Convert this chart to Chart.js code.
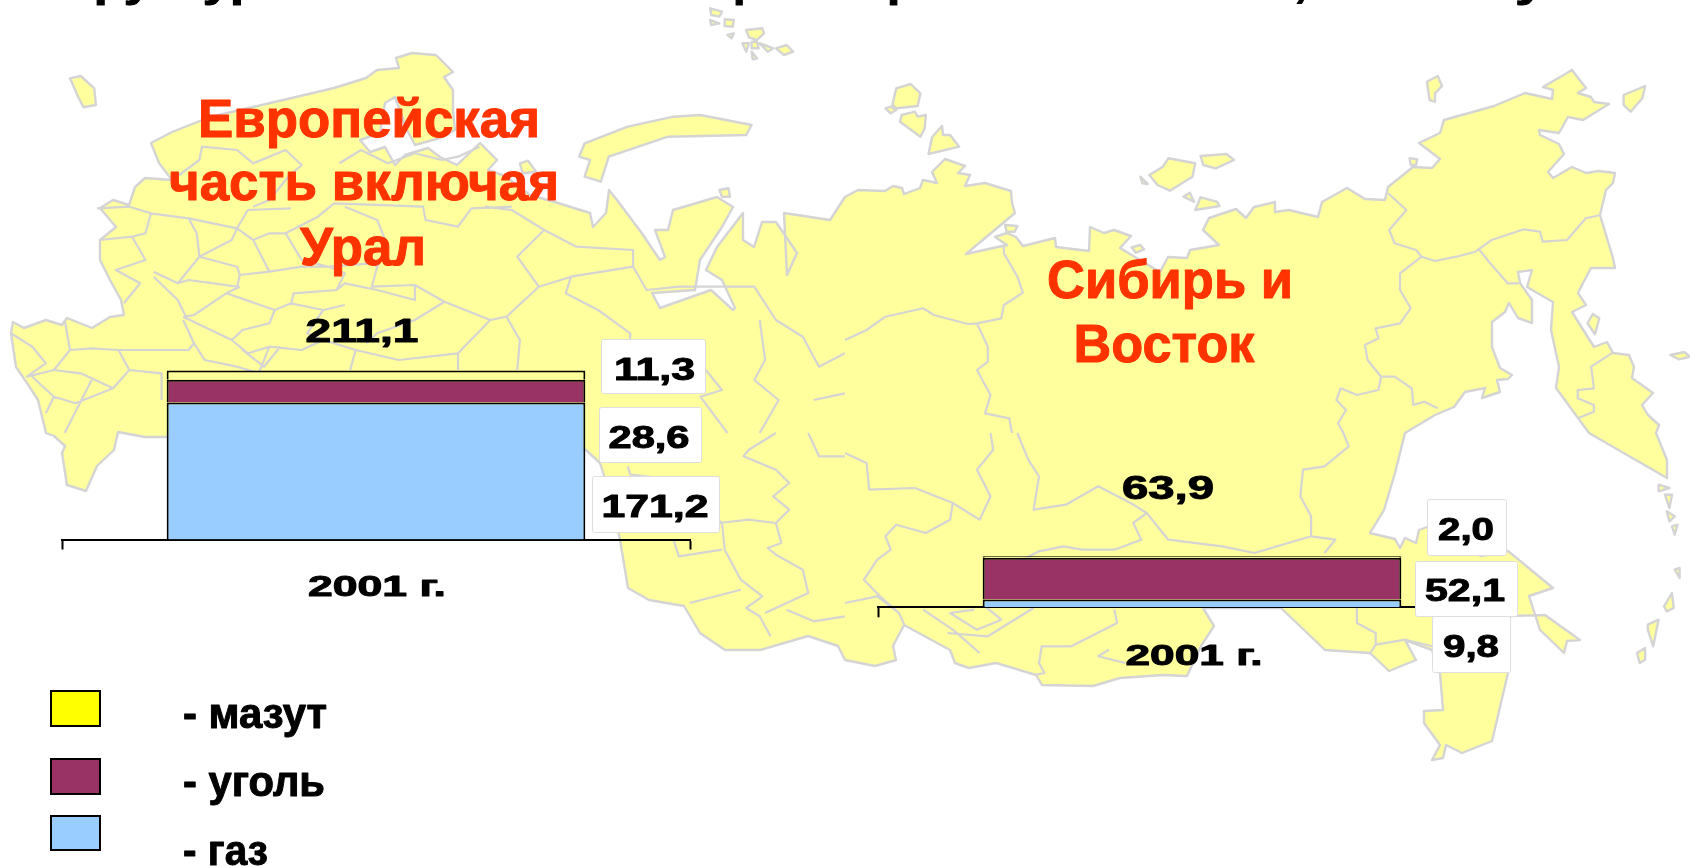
<!DOCTYPE html>
<html lang="ru"><head><meta charset="utf-8">
<style>
html,body{margin:0;padding:0;background:#fff;width:1690px;height:866px;overflow:hidden}
svg,canvas{position:absolute;left:0;top:0}
</style>
<script src="https://cdn.jsdelivr.net/npm/chart.js@4"></script>
</head><body>
<svg id="map" width="1690" height="866" viewBox="0 0 1690 866"></svg>
<canvas id="c1" width="1690" height="866"></canvas>
<canvas id="c2" width="1690" height="866"></canvas>
<script>
// ---------- data ----------
const categories = ['2001 г.'];
const seriesNames = ['мазут', 'уголь', 'газ'];
const europeGas = [171.2];
const europeCoal = [28.6];
const europeMazut = [11.3];
const europeTotal = 211.1;
const siberiaGas = [9.8];
const siberiaCoal = [52.1];
const siberiaMazut = [2.0];
const siberiaTotal = 63.9;

// ---------- decorative base map (full-size page coordinates) ----------
const mainland = [13,322,24,328,46,320,62,325,67,318,92,328,110,317,124,315,121,300,110,280,100,260,100,240,116,227,100,208,113,200,129,205,135,187,145,178,172,180,159,163,151,143,172,132,210,117,253,107,296,97,334,88,366,78,377,70,399,68,396,58,412,53,436,55,453,72,444,77,453,90,453,110,455,130,440,138,415,145,407,130,395,97,385,103,380,133,360,140,370,152,385,147,395,165,405,155,428,148,440,157,457,165,480,143,497,160,488,170,505,176,530,195,558,203,590,213,593,227,606,213,609,190,617,200,641,232,660,260,665,257,655,230,668,230,673,210,717,197,733,207,722,227,700,260,695,290,652,293,660,308,711,290,733,310,735,308,722,280,706,270,717,247,743,213,743,240,754,247,762,222,776,222,797,253,787,275,784,213,830,220,845,197,858,190,885,191,893,186,902,188,904,194,920,188,923,180,937,183,932,172,945,159,965,166,958,173,970,175,965,186,985,183,1011,191,1012,203,1015,213,966,254,1007,245,995,237,1007,233,1016,237,1023,246,1055,238,1056,247,1089,251,1090,227,1104,233,1114,230,1131,236,1120,248,1160,272,1168,257,1187,258,1190,250,1219,245,1203,230,1209,218,1236,209,1246,218,1254,207,1275,202,1275,212,1289,210,1318,217,1322,202,1347,188,1365,199,1385,200,1388,187,1413,167,1432,168,1440,159,1419,143,1440,133,1444,120,1494,106,1525,93,1552,99,1553,90,1543,87,1572,70,1586,88,1578,93,1591,97,1594,102,1609,104,1583,120,1568,117,1559,133,1539,130,1540,135,1559,144,1564,154,1548,172,1553,178,1572,167,1586,173,1599,171,1615,173,1613,183,1606,190,1600,215,1613,258,1615,268,1591,268,1582,285,1578,293,1586,305,1572,312,1594,347,1607,342,1613,353,1629,355,1634,367,1632,378,1653,393,1642,405,1648,415,1659,425,1656,433,1667,460,1667,478,1589,433,1578,418,1556,388,1559,367,1551,330,1553,302,1527,287,1532,270,1518,272,1520,283,1532,300,1532,323,1518,318,1509,303,1505,312,1492,322,1492,347,1500,368,1512,375,1508,379,1497,380,1500,392,1482,398,1485,388,1465,392,1454,407,1435,415,1405,433,1395,473,1384,510,1370,533,1395,539,1400,548,1405,538,1416,543,1419,530,1427,527,1481,556,1508,551,1553,588,1529,596,1540,630,1564,653,1567,641,1580,640,1545,615,1510,616,1508,673,1492,741,1462,753,1446,745,1443,758,1432,760,1440,745,1424,723,1424,711,1443,710,1440,673,1432,650,1405,640,1416,660,1389,671,1370,653,1325,650,1281,608,1203,608,1214,626,1201,646,1187,676,1163,675,1120,678,1093,686,1042,685,1036,675,996,663,969,668,955,663,950,650,904,625,893,646,896,660,875,666,845,660,838,646,808,636,760,650,725,650,700,633,684,606,649,600,628,588,620,540,612,500,600,463,586,450,167,437,145,437,118,432,114,450,97,466,86,491,67,485,62,453,65,446,54,436,46,433,38,400,27,383,16,367,11,333];

const pZ1 = [[130,235,150,228,175,265,178,315,155,322,145,290],[1085,430,1165,380,1250,350,1300,345,1395,375,1385,405,1240,410,1130,470,1115,545,1085,530,1095,480,1075,470],[965,490,980,482,995,515,970,520],[1335,570,1352,565,1355,590,1340,590],[1318,25,1340,35,1335,50,1320,45],[1318,60,1335,70,1320,75],[1345,58,1362,60,1360,80,1345,78],[1350,105,1362,100,1358,115],[1385,90,1415,85,1418,100,1405,120,1390,112],[1378,130,1390,130,1385,155],[1395,125,1405,125,1408,145,1395,145],[1410,130,1435,145,1425,155],[1440,145,1460,135,1472,155,1455,165],[1395,155,1405,175,1397,178]];
const pZ2 = [[95,265,122,252,140,280,135,318,95,325,88,315],[75,325,85,320,95,330,85,340],[105,345,130,335,135,350,150,345,148,385,140,410,102,365],[180,378,182,405,195,405,212,440,155,462,162,410],[600,475,650,490,645,530,603,572,580,555,565,525,590,500],[660,468,708,462,722,480,688,505,665,495],[548,530,562,552,552,550],[640,578,648,605,628,590],[660,592,690,605,695,618,650,630],[297,675,320,678,315,695,300,695],[532,742,548,735,555,748,540,758],[1048,475,1062,478,1060,495,1050,495],[1080,245,1100,228,1108,258,1095,280,1095,305,1085,300],[1445,285,1485,258,1480,295,1458,335,1445,315],[1378,970,1388,942,1400,955,1392,1003],[1532,1065,1558,1056,1568,1070,1548,1078]];
const pZ4 = [[1510,155,1530,165,1510,175],[1522,185,1535,185,1530,225],[1525,235,1540,250,1530,265],[1535,280,1545,275,1540,305],[1540,410,1549,405,1549,435],[1520,520,1535,480,1538,525,1525,535],[1490,575,1510,560,1500,640,1490,590],[1470,660,1485,645,1485,680,1475,690]];

const lZ1 = [[180,625,240,620,280,640,350,655,440,685,460,630,540,625],[280,640,270,700,245,710,185,720],[245,710,270,780,215,810,260,850,230,910],[350,655,365,700,370,770,350,810,330,850,285,815],[370,770,440,800,445,825,500,815,470,720,440,685],[445,825,440,860,350,840,330,850],[445,860,420,880,360,945,345,950,330,900,285,830],[360,945,420,880,510,930,540,910,600,930,640,915],[625,870,545,880,540,915],[700,800,690,860,770,855,825,905,910,960,940,950,1000,860,1060,830,1175,800],[1060,830,1050,880,1110,930,1170,1000,1165,1100],[940,950,965,1020,960,1110],[910,960,850,1060,740,1080,660,1050,600,1020,560,1050,500,1040,460,1060,430,1020,340,950],[700,870,770,900,770,855],[900,620,950,630,1010,690,1070,740,1175,750,1175,800],[500,700,530,700,590,650,620,610,785,620,790,660,850,680,875,625,950,620],[120,960,130,1050,100,1110],[20,1000,60,1040,85,1090,50,1130,100,1110],[220,1050,240,1110,210,1165,150,1120,100,1110],[340,960,360,1030,350,1050,220,1050],[450,1050,490,1100,520,1040],[130,1050,170,1045,220,1050],[320,540,370,480,375,440,440,450,470,490,530,450,560,495,535,530,500,600,470,620],[630,490,670,450,720,490,770,460,820,480,850,470,890,440],[1175,800,1200,870,1260,860,1400,860,1440,960,1490,1010,1520,1100,1568,1060],[1410,960,1420,1080,1400,1140,1445,1200,1410,1299],[1510,1200,1568,1180],[440,685,430,720,370,770],[500,700,470,720],[530,700,560,780,610,800,690,790,700,800],[500,815,560,800,610,800],[625,870,640,820,610,800],[510,930,500,970,450,990,430,1020],[600,930,570,1000,600,1020],[680,1030,700,1000,770,960,825,905],[360,1030,380,1080,440,1100,480,1120,500,1040],[660,1050,650,1110],[850,1060,850,1110],[700,870,640,850,625,870],[60,1130,100,1190,140,1210,210,1165],[100,1190,85,1240],[240,1110,300,1120,300,1200],[120,1299,170,1140],[640,620,700,660,720,740,700,800],[1000,860,960,770,1010,690],[1310,1110,1340,1170,1300,1190,1350,1299]];
const lZ3 = [[1340,270,1345,350,1375,440,1415,490,1385,525,1410,550,1430,610],[1335,270,1390,260,1440,270,1450,330,1425,345,1440,365,1490,410,1500,480,1420,540],[1440,0,1390,50,1380,70,1440,110,1465,150,1435,190,1465,230,1440,270],[1165,100,1170,125,1250,140,1290,200,1340,270],[1250,320,1260,370,1340,350],[1500,0,1520,70,1568,70],[1280,510,1375,470],[1460,530,1510,565,1568,550]];
const lZ2 = [[295,740,295,760,320,830,330,878,295,915,290,955,245,970,265,1040,265,1085,245,1110,270,1185,260,1240,305,1255,310,1299],[0,1020,40,990,75,950,145,925,165,945,228,972,245,970],[1008,580,1042,630,1010,690,1020,730,1060,750,1070,770,1030,820,1030,870,1050,925,1030,970,985,985,990,1015,965,1035,970,1080,995,1130,990,1170,950,1185,920,1165,912,1200,930,1230,915,1270,925,1299],[1070,770,1095,783,1135,770,1170,755,1200,720,1260,688,1290,695,1295,725,1340,720,1375,655,1402,645],[1175,745,1195,785,1230,850,1250,850],[995,1130,1020,1130,1052,1165,1055,1215,1075,1205,1100,1225],[1425,1058,1385,1100,1390,1165,1360,1170,1360,1195,1390,1215,1390,1235,1360,1255]];
const lZ4 = [[0,60,40,90,45,170,130,165,200,210,250,260,270,190,245,110,275,50,270,0],[200,210,195,260,150,300,95,275,75,310,85,350,60,380,35,440,65,490,100,540,110,575],[320,0,340,80,360,130,350,230,410,215,470,160,530,210,560,240,535,270,550,320,500,350,440,350,405,340,360,355,330,380,270,400],[925,0,935,40,890,100,850,110,845,190,865,250,865,310,910,320,890,360],[560,240,600,320,700,340,760,360,865,310],[0,510,60,490,100,540],[145,530,200,590,250,660],[190,600,265,610,350,525],[240,530,195,540,245,590,290,560,260,520],[500,530,505,570,420,640,365,640,360,690,370,720,355,725],[490,650,470,670,520,690],[950,525,950,570,985,600,985,635,975,660],[985,635,1040,620,1090,640]];

const conv = (a, ox, oy) => a.map((v, i) => i % 2 ? v / 3 + oy : v / 1.856 + ox);
const pathOf = (a, closed) => {
  let d = '';
  for (let i = 0; i < a.length; i += 2) d += (i ? 'L' : 'M') + a[i].toFixed(1) + ' ' + a[i + 1].toFixed(1);
  return d + (closed ? 'Z' : '');
};
let fillD = pathOf(mainland, true);
pZ1.forEach(p => fillD += pathOf(conv(p, 0, 0), true));
pZ2.forEach(p => fillD += pathOf(conv(p, 845, 0), true));
pZ4.forEach(p => fillD += pathOf(conv(p, 845, 433), true));
let lineD = '';
lZ1.forEach(p => lineD += pathOf(conv(p, 0, 0)));
lZ2.forEach(p => lineD += pathOf(conv(p, 845, 0)));
lZ3.forEach(p => lineD += pathOf(conv(p, 0, 433)));
lZ4.forEach(p => lineD += pathOf(conv(p, 845, 433)));
document.getElementById('map').innerHTML =
  `<path d="${fillD}" fill="#FFFF9E" stroke="#D4D4D4" stroke-width="2.4" stroke-linejoin="round"/>` +
  `<path d="${lineD}" fill="none" stroke="#D4D4D4" stroke-width="2.2" stroke-linejoin="round"/>`;

// ---------- text helpers ----------
const FONT = '"Liberation Sans", Arial, sans-serif';
function fitText(ctx, text, cx, base, size, width, color, left) {
  ctx.save();
  ctx.font = `bold ${size}px ${FONT}`;
  ctx.fillStyle = color || '#000';
  ctx.strokeStyle = color || '#000';
  ctx.lineWidth = 1;
  ctx.lineJoin = 'round';
  ctx.textBaseline = 'alphabetic';
  ctx.textAlign = 'center';
  const k = width / ctx.measureText(text).width;
  ctx.translate(left ? cx + width / 2 : cx, base);
  ctx.scale(k, 1);
  ctx.fillText(text, 0, 0);
  ctx.strokeText(text, 0, 0);
  ctx.restore();
}
const fmt = v => v.toFixed(1).replace('.', ',');
function valueBox(ctx, b, v) {
  ctx.save();
  ctx.fillStyle = '#fff';
  ctx.strokeStyle = '#DEDEDE';
  ctx.lineWidth = 1;
  ctx.beginPath();
  ctx.roundRect(b.x + .5, b.y + .5, b.w, b.h, 2);
  ctx.fill(); ctx.stroke();
  ctx.restore();
  fitText(ctx, fmt(v), b.cx, b.base, 31, b.tw);
}

// ---------- panel layout (positions only) ----------
const pxPerUnit = 0.8;
const panelTop = 20;
const baseline = { eu: 539.5, si: 607.3 };
const segmentBorder = { top: 2, bottom: 0, left: 2, right: 2 };

function makeChart(id, gas, coal, mazut, axisL, axisR, base, afterDraw) {
  return new Chart(document.getElementById(id), {
    type: 'bar',
    data: {
      labels: categories,
      datasets: [
        { label: seriesNames[2], data: gas, backgroundColor: '#99CCFF' },
        { label: seriesNames[1], data: coal, backgroundColor: '#993366' },
        { label: seriesNames[0], data: mazut, backgroundColor: '#FFFF99' }
      ].map(d => Object.assign(d, {
        borderColor: '#000', borderWidth: segmentBorder, borderSkipped: false,
        categoryPercentage: 2 / 3, barPercentage: 1
      }))
    },
    options: {
      responsive: false, animation: false,
      layout: { padding: { left: axisL, right: 1690 - axisR, top: panelTop, bottom: 866 - base - 10 } },
      plugins: { legend: { display: false }, tooltip: { enabled: false } },
      scales: {
        x: {
          stacked: true, offset: true,
          grid: { drawOnChartArea: false, drawTicks: true, tickLength: 10, tickColor: '#000', tickWidth: 2, color: '#000', offset: true },
          border: { display: true, color: '#000', width: 2 },
          ticks: { display: false }
        },
        y: { stacked: true, display: false, min: 0, max: (base - panelTop) / pxPerUnit }
      }
    },
    plugins: [{ id: 'txt', afterDraw: c => afterDraw(c, c.ctx) }]
  });
}

makeChart('c1', europeGas, europeCoal, europeMazut, 62, 690, baseline.eu, (c, ctx) => {
  // cut-off heading at the top edge
  [['Структура топливного', 33, 560], ['рынка', 733, 140], ['регионов', 887, 220], ['России,', 1125, 182], ['млн т у.т.', 1352, 240]]
    .forEach(t => fitText(ctx, t[0], t[1], -3, 40, t[2], '#000', true));
  // region name
  const red = '#FF3300';
  fitText(ctx, 'Европейская', 369, 137, 53, 342, red);
  fitText(ctx, 'часть включая', 364, 200, 53, 390, red);
  fitText(ctx, 'Урал', 363, 265, 53, 126, red);
  // totals and axis caption
  fitText(ctx, fmt(europeTotal), 362, 342, 33, 113);
  fitText(ctx, c.data.labels[0], 377, 596, 30, 138);
  // value boxes
  valueBox(ctx, { x: 601, y: 339, w: 104, h: 54, cx: 654.5, base: 380, tw: 81 }, europeMazut[0]);
  valueBox(ctx, { x: 599, y: 407, w: 102, h: 55, cx: 649, base: 448, tw: 81 }, europeCoal[0]);
  valueBox(ctx, { x: 592, y: 476, w: 127, h: 56, cx: 655, base: 517, tw: 107 }, europeGas[0]);
  // legend
  const keys = [
    { name: seriesNames[0], fill: '#FFFF00', y: 691, h: 35, base: 728, w: 144 },
    { name: seriesNames[1], fill: '#993366', y: 759, h: 35, base: 796, w: 142 },
    { name: seriesNames[2], fill: '#99CCFF', y: 816, h: 34, base: 865, w: 85 }
  ];
  keys.forEach(k => {
    ctx.fillStyle = k.fill;
    ctx.strokeStyle = '#000';
    ctx.lineWidth = 2;
    ctx.fillRect(51, k.y, 49, k.h);
    ctx.strokeRect(51, k.y, 49, k.h);
    fitText(ctx, '- ' + k.name, 183, k.base, 43, k.w, '#000', true);
  });
});

makeChart('c2', siberiaGas, siberiaCoal, siberiaMazut, 878, 1506, baseline.si, (c, ctx) => {
  const red = '#FF3300';
  fitText(ctx, 'Сибирь и', 1170, 298, 53, 246, red);
  fitText(ctx, 'Восток', 1164, 362, 53, 181, red);
  fitText(ctx, fmt(siberiaTotal), 1168, 499, 33, 92);
  fitText(ctx, c.data.labels[0], 1194, 665, 30, 137);
  valueBox(ctx, { x: 1427, y: 499, w: 79, h: 56, cx: 1466, base: 540, tw: 56 }, siberiaMazut[0]);
  valueBox(ctx, { x: 1415, y: 561, w: 102, h: 55, cx: 1465, base: 601, tw: 80 }, siberiaCoal[0]);
  valueBox(ctx, { x: 1432, y: 616, w: 78, h: 56, cx: 1471, base: 657, tw: 56 }, siberiaGas[0]);
});
</script>
</body></html>
